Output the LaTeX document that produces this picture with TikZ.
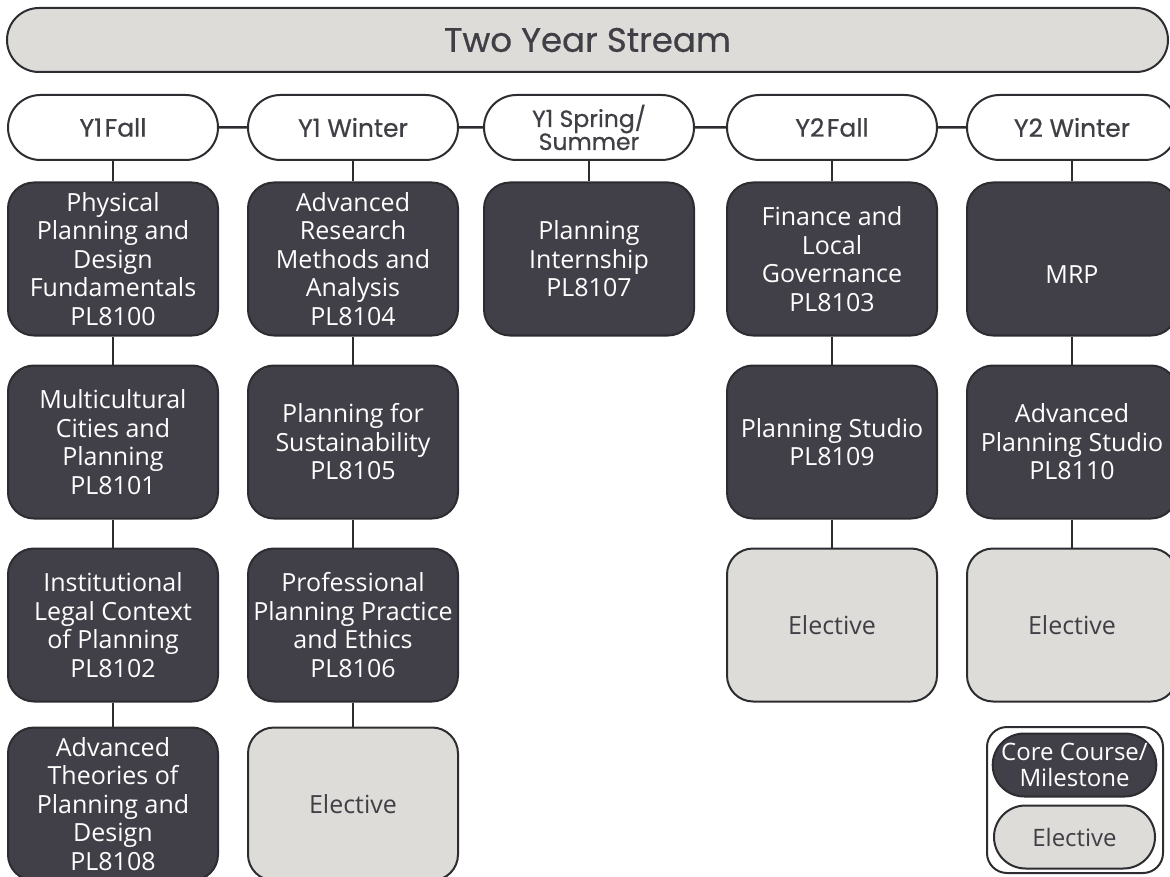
\documentclass[tikz,border=0pt]{standalone}
\usepackage{fontspec}
\setmainfont{Open Sans}
\newfontfamily\headfont{Poppins}[FakeBold=0.6]
\usetikzlibrary{shapes.misc}
\definecolor{coredark}{HTML}{414048}
\definecolor{edgedark}{HTML}{2C2C31}
\definecolor{elecfill}{HTML}{DEDCD8}
\definecolor{textdark}{HTML}{3F3F45}
\begin{document}
\begin{tikzpicture}[x=1pt,y=-1pt,
 bodyfont/.style={font=\fontsize{25}{28.5}\selectfont},
 boxbase/.style={draw=edgedark, line width=2pt, rounded corners=26pt, minimum width=210pt, minimum height=153pt, align=center, inner sep=0pt, bodyfont},
 core/.style={boxbase, fill=coredark, text=white},
 elective/.style={boxbase, fill=elecfill, text=textdark},
 term/.style={draw=edgedark, line width=2pt, fill=white, rounded rectangle, minimum width=210pt, minimum height=65pt, inner sep=0pt, align=center, text=textdark, font=\headfont\fontsize{25}{24}\selectfont},
 legpill/.style={draw=edgedark, line width=2pt, rounded rectangle, minimum width=161pt, minimum height=63pt, inner sep=0pt, align=center, font=\fontsize{24}{25.5}\selectfont},
 link/.style={draw=edgedark, line width=2.5pt}]
\useasboundingbox (0,0) rectangle (1170,877);
\clip (0,0) rectangle (1170,877);

\node[draw=edgedark, line width=2pt, fill=elecfill, rounded rectangle, minimum width=1161pt, minimum height=64pt, inner sep=0pt, font=\headfont\fontsize{34}{36}\selectfont, text=textdark] (title) at (587.5,40) {Two Year Stream};

% terms
\node[term] (t1) at (113,127.5) {Y1\hspace{0.1em}Fall};
\node[term] (t2) at (353,127.5) {Y1 Winter};
\node[term, font=\headfont\fontsize{23.5}{23}\selectfont] (t3) at (589,127.5) {Y1 Spring/\\Summer};
\node[term] (t4) at (832,127.5) {Y2\hspace{0.1em}Fall};
\node[term] (t5) at (1072,127.5) {Y2 Winter};

\draw[link] (t1) -- (t2);
\draw[link] (t2) -- (t3);
\draw[link] (t3) -- (t4);
\draw[link] (t4) -- (t5);

% column 1
\node[core] (a1) at (113,259) {Physical\\Planning and\\Design\\Fundamentals\\PL8100};
\node[core] (a2) at (113,442) {Multicultural\\Cities and\\Planning\\PL8101};
\node[core] (a3) at (113,625) {Institutional\\Legal Context\\of Planning\\PL8102};
\node[core] (a4) at (113,804) {Advanced\\Theories of\\Planning and\\Design\\PL8108};
% column 2
\node[core] (b1) at (353,259) {Advanced\\Research\\Methods and\\Analysis\\PL8104};
\node[core] (b2) at (353,442) {Planning for\\Sustainability\\PL8105};
\node[core] (b3) at (353,625) {Professional\\Planning Practice\\and Ethics\\PL8106};
\node[elective] (b4) at (353,804) {Elective};
% column 3
\node[core] (c1) at (589,259) {Planning\\Internship\\PL8107};
% column 4
\node[core] (d1) at (832,259) {Finance and\\Local\\Governance\\PL8103};
\node[core] (d2) at (832,442) {Planning Studio\\PL8109};
\node[elective] (d3) at (832,625) {Elective};
% column 5
\node[core, label={[text=white, bodyfont, yshift=-16pt]center:MRP}] (e1) at (1072,259) {};
\node[core] (e2) at (1072,442) {Advanced\\Planning Studio\\PL8110};
\node[elective] (e3) at (1072,625) {Elective};

\draw[link] (t1) -- (a1);
\draw[link] (a1) -- (a2);
\draw[link] (a2) -- (a3);
\draw[link] (a3) -- (a4);
\draw[link] (t2) -- (b1);
\draw[link] (b1) -- (b2);
\draw[link] (b2) -- (b3);
\draw[link] (b3) -- (b4);
\draw[link] (t3) -- (c1);
\draw[link] (t4) -- (d1);
\draw[link] (d1) -- (d2);
\draw[link] (d2) -- (d3);
\draw[link] (t5) -- (e1);
\draw[link] (e1) -- (e2);
\draw[link] (e2) -- (e3);

% legend
\node[draw=edgedark, line width=2pt, fill=white, rounded corners=20pt, minimum width=176pt, minimum height=146pt, inner sep=0pt] (legend) at (1075,800) {};
\node[legpill, fill=coredark, text=white] (legcore) at (1074.5,765) {Core Course/\\Milestone};
\node[legpill, fill=elecfill, text=textdark] (legelec) at (1074.5,837) {Elective};
\end{tikzpicture}
\end{document}
